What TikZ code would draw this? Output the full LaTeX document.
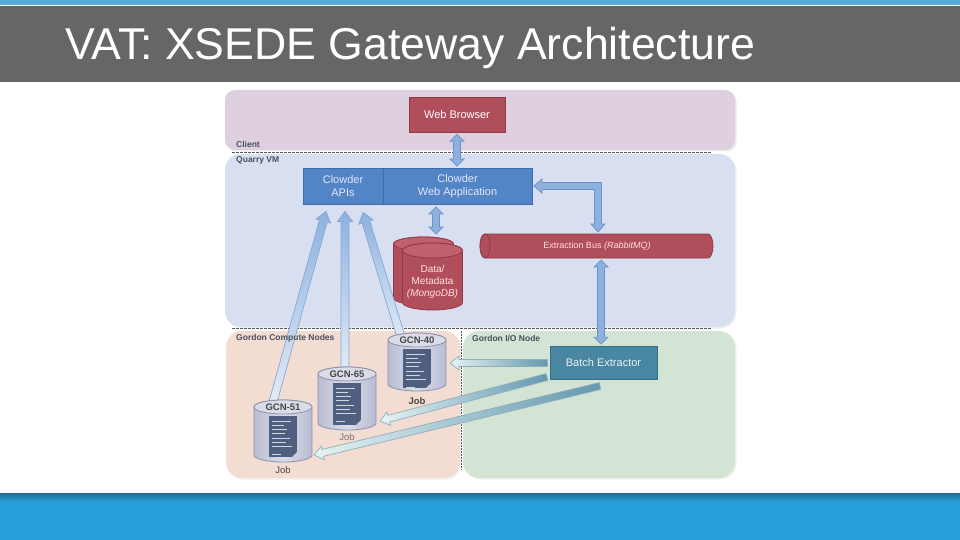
\documentclass[tikz,border=0pt]{standalone}
\usepackage{fontspec}
\setmainfont{Liberation Sans}
\usetikzlibrary{calc}
\definecolor{topblue}{HTML}{57ACD9}
\definecolor{titlegray}{HTML}{666666}
\definecolor{botline}{HTML}{1F6C94}
\definecolor{botblue}{HTML}{279FD9}
\definecolor{clientc}{HTML}{DFD0E0}
\definecolor{quarryc}{HTML}{D7DFF1}
\definecolor{computec}{HTML}{F3DCD1}
\definecolor{ioc}{HTML}{D4E4D4}
\definecolor{redc}{HTML}{B14E5C}
\definecolor{redd}{HTML}{8E3A47}
\definecolor{redtop}{HTML}{BF606C}
\definecolor{bluec}{HTML}{5285C5}
\definecolor{blued}{HTML}{3E6CA8}
\definecolor{tealc}{HTML}{4886A1}
\definecolor{teald}{HTML}{356D86}
\definecolor{arrowc}{HTML}{8DB1DF}
\definecolor{arrowd}{HTML}{6A92C7}
\definecolor{gcnbody}{HTML}{B8BDD3}
\definecolor{gcnlight}{HTML}{DADCE8}
\definecolor{gcnd}{HTML}{8D92AA}
\definecolor{docc}{HTML}{4F5F80}
\definecolor{labc}{HTML}{4A4F5E}
\tikzset{
  redbox/.style={draw=redd, fill=redc, text=white, inner sep=0pt, line width=0.8pt, font=\fontsize{11}{13}\selectfont},
  bluebox/.style={draw=blued, fill=bluec, text=white!90!blue, inner sep=0pt, align=center, line width=0.8pt, font=\fontsize{11}{13}\selectfont},
  tealbox/.style={draw=teald, fill=tealc, text=white!92!teal, inner sep=0pt, line width=0.8pt, font=\fontsize{11}{13}\selectfont},
  panellab/.style={text=labc, anchor=base west, inner sep=0pt, font=\fontsize{8.5}{10}\selectfont\bfseries},
  gcnlab/.style={text=black!72, inner sep=0pt, font=\fontsize{9.5}{11}\selectfont\bfseries},
  joblab/.style={text=black!72, inner sep=0pt, font=\fontsize{9.5}{11}\selectfont},
  sepline/.style={draw=black!65, line width=0.9pt, dash pattern=on 2.5pt off 1.5pt},
  bluearrow/.style={fill=arrowc, draw=arrowd, line width=0.7pt},
  uparrow/.style={top color=arrowc, bottom color=arrowc!25!white, draw=arrowd!80!white, line width=0.7pt},
  tealarrow/.style={left color=white!90!teal, right color=tealc!85!white, draw=teald!55!white, line width=0.7pt},
  redbody/.style={fill=redc, draw=redd, line width=0.8pt},
  redface/.style={fill=redtop, draw=redd, line width=0.8pt},
  gcnbodys/.style={left color=gcnbody, right color=gcnbody, middle color=gcnlight, draw=gcnd, line width=0.8pt},
  gcnface/.style={fill=gcnlight, draw=gcnd, line width=0.8pt},
  docline/.style={draw=white, line width=0.55pt, opacity=0.75},
}
% one-headed fat arrow: options, start, end, half shaft, half head, head length
\newcommand\Farrow[6]{%
\path[#1] let \p1=($(#3)-(#2)$), \n1={atan2(\y1,\x1)}, \n2={veclen(\x1,\y1)} in
 ($(#2)+(\n1+90:#4)$) -- ($(#2)+(\n1:\n2-#6)+(\n1+90:#4)$) -- ($(#2)+(\n1:\n2-#6)+(\n1+90:#5)$) -- (#3)
 -- ($(#2)+(\n1:\n2-#6)+(\n1-90:#5)$) -- ($(#2)+(\n1:\n2-#6)+(\n1-90:#4)$) -- ($(#2)+(\n1-90:#4)$) -- cycle;}
% two-headed fat arrow
\newcommand\DFarrow[6]{%
\path[#1] let \p1=($(#3)-(#2)$), \n1={atan2(\y1,\x1)}, \n2={veclen(\x1,\y1)} in
 (#2) -- ($(#2)+(\n1:#6)+(\n1+90:#5)$) -- ($(#2)+(\n1:#6)+(\n1+90:#4)$) -- ($(#2)+(\n1:\n2-#6)+(\n1+90:#4)$)
 -- ($(#2)+(\n1:\n2-#6)+(\n1+90:#5)$) -- (#3) -- ($(#2)+(\n1:\n2-#6)+(\n1-90:#5)$) -- ($(#2)+(\n1:\n2-#6)+(\n1-90:#4)$)
 -- ($(#2)+(\n1:#6)+(\n1-90:#4)$) -- ($(#2)+(\n1:#6)+(\n1-90:#5)$) -- cycle;}
% vertical cylinder: body opts, face opts, cx, top centre y, bottom centre y, rx, ry
\newcommand\Vcyl[7]{%
 \path[#1] (#3-#6,#4) -- (#3-#6,#5) arc[start angle=180,end angle=360,x radius=#6,y radius=#7]
   -- (#3+#6,#4) arc[start angle=0,end angle=180,x radius=#6,y radius=#7] -- cycle;
 \path[#2] (#3,#4) ellipse[x radius=#6, y radius=#7];}
% job document: cx, top y, bottom y
\newcommand\Jobdoc[3]{%
 \fill[docc] (#1-14,#2) rectangle (#1+14,#3);
 \fill[white!70!docc] (#1+14,#3+5) -- (#1+9,#3) -- (#1+14,#3) -- cycle;
 \foreach \i/\l in {0/19,1/12,2/15,3/13,4/18,5/14,6/20,8/9}
   \draw[docline] (#1-11,#2-5-\i*4.2) -- ++(\l,0);}
\begin{document}
\begin{tikzpicture}[x=1pt,y=1pt]
\useasboundingbox (0,0) rectangle (960,-540);
\fill[white] (0,0) rectangle (960,-540);
% title bar
\fill[topblue] (0,0) rectangle (960,-5);
\fill[titlegray] (0,-6.5) rectangle (960,-82);
\node[anchor=base west, inner sep=0pt, text=white, font=\fontsize{44.6}{48}\selectfont] (title) at (65,-60) {VAT: XSEDE Gateway Architecture};
% bottom band
\shade[top color=botline, bottom color=botblue] (0,-493) rectangle (960,-501);
\fill[botblue] (0,-501) rectangle (960,-540);
% panels
\fill[black!8, rounded corners=10] (226.5,-91.5) rectangle (736.5,-151.5);
\fill[clientc, rounded corners=10] (225,-90) rectangle (735,-150);
\fill[black!6, rounded corners=16] (226.5,-155.5) rectangle (736.5,-328.5);
\fill[quarryc, rounded corners=16] (225,-154) rectangle (735,-327);
\fill[black!6, rounded corners=16] (227.5,-332.5) rectangle (461.5,-479.5);
\fill[computec, rounded corners=16] (226,-331) rectangle (460,-478);
\fill[black!6, rounded corners=16] (464.5,-332.5) rectangle (736.5,-479.5);
\fill[ioc, rounded corners=16] (463,-331) rectangle (735,-478);
\draw[sepline] (232,-152.5) -- (712,-152.5);
\draw[sepline] (232,-328.5) -- (712,-328.5);
\draw[sepline, line width=0.8pt, dash pattern=on 1.5pt off 1.5pt] (461.5,-331) -- (461.5,-470);
% boxes
\node[redbox, minimum width=96pt, minimum height=35pt] (wb) at (457,-114.5) {Web Browser};
\node[bluebox, minimum width=80pt, minimum height=36pt] (api) at (343,-186) {Clowder\\APIs};
\node[bluebox, minimum width=149pt, minimum height=36pt] (cwa) at (457.5,-186) {Clowder\\Web Application};
\node[tealbox, minimum width=107pt, minimum height=33pt] (be) at (603.5,-362.5) {Batch Extractor};
% extraction bus (horizontal cylinder)
\path[redbody] (485,-234) -- (708,-234) arc[start angle=90,end angle=-90,x radius=5,y radius=12]
   -- (485,-258) arc[start angle=270,end angle=90,x radius=5,y radius=12] -- cycle;
\path[redbody] (485,-246) ellipse[x radius=5, y radius=12];
\node[text=white!88!red, inner sep=0pt, font=\fontsize{9}{11}\selectfont] (bus) at (597,-246.5) {Extraction Bus \textit{(RabbitMQ)}};
% data / metadata cylinders
\Vcyl{redbody}{redface}{423.5}{-244}{-298}{30}{7}
\Vcyl{redbody}{redface}{432.5}{-250.5}{-302.5}{30}{7.5}
\node[text=white!88!red, inner sep=0pt, align=center, font=\fontsize{10}{12}\selectfont] (db) at (432.5,-282) {Data/\\Metadata\\\textit{(MongoDB)}};
% connector end points
\coordinate (wbS) at ($(wb.south)+(0,-2)$);
\coordinate (cwaN0) at (wb.south |- cwa.north);
\coordinate (cwaN) at ($(cwaN0)+(0,1.5)$);
\coordinate (cwaS) at ($(cwa.south)+(-21.5,-2.5)$);
\coordinate (dbtop) at (436,-234);
\coordinate (eL) at ($(cwa.east)+(1.5,0)$);
\coordinate (eC) at (598,-186);
\coordinate (eB) at (598,-232);
\coordinate (busS) at (601,-260);
\coordinate (beN) at ($(be.north)+(-2.5,1.5)$);
\coordinate (h51) at ($(api.south)+(-17,-7)$);
\coordinate (h65) at ($(api.south)+(2,-7)$);
\coordinate (h40) at ($(api.south)+(20,-8)$);
\coordinate (t51) at (273,-402);
\coordinate (t65) at (345,-372);
\coordinate (t40) at (402,-340);
\coordinate (bA) at ($(be.west)+(-2,-0.5)$);
\coordinate (bB) at (547,-377);
\coordinate (bC) at (600,-386);
\coordinate (j40) at (450,-363);
\coordinate (j65) at (380,-421);
\coordinate (j51) at (314,-455);
% blue connectors
\DFarrow{bluearrow}{wbS}{cwaN}{3.5}{7}{7}
\DFarrow{bluearrow}{cwaS}{dbtop}{3.5}{7}{7}
\DFarrow{bluearrow}{busS}{beN}{3.5}{7}{7}
\path[bluearrow] (eL) -- ($(eL)+(8,7)$) -- ($(eL)+(8,3.5)$) -- ($(eC)+(3.5,3.5)$) -- ($(eB)+(3.5,8)$)
  -- ($(eB)+(7,8)$) -- (eB) -- ($(eB)+(-7,8)$) -- ($(eB)+(-3.5,8)$) -- ($(eC)+(-3.5,-3.5)$)
  -- ($(eL)+(8,-3.5)$) -- ($(eL)+(8,-7)$) -- cycle;
% compute nodes to APIs
\Farrow{uparrow}{t51}{h51}{4}{7.5}{10}
\Farrow{uparrow}{t65}{h65}{4}{7.5}{10}
\Farrow{uparrow}{t40}{h40}{4}{7.5}{10}
% panel labels
\node[panellab] (lclient) at (236,-148) {Client};
\node[panellab] (lquarry) at (236,-163) {Quarry VM};
\node[panellab] (lcompute) at (236,-340) {Gordon Compute Nodes};
\node[panellab] (lio) at (472,-341) {Gordon I/O Node};
% GCN cylinders
\Vcyl{gcnbodys}{gcnface}{417}{-340}{-384}{29}{7}
\node[gcnlab] (g40) at (417,-340.5) {GCN-40};
\Jobdoc{417}{-349}{-388}
\node[joblab, font=\fontsize{9.5}{11}\selectfont\bfseries] (job40) at (417,-401) {Job};
\Vcyl{gcnbodys}{gcnface}{347}{-374}{-423}{29}{7}
\node[gcnlab] (g65) at (347,-374.5) {GCN-65};
\Jobdoc{347}{-383}{-425}
\node[joblab, text=black!55] (job65) at (347,-437) {Job};
\Vcyl{gcnbodys}{gcnface}{283}{-407}{-455}{29}{7}
\node[gcnlab] (g51) at (283,-407.5) {GCN-51};
\Jobdoc{283}{-416}{-457}
\node[joblab] (job51) at (283,-470) {Job};
% batch extractor to jobs
\Farrow{tealarrow}{bA}{j40}{3.5}{7}{9}
\Farrow{tealarrow}{bB}{j65}{3.5}{7}{9}
\Farrow{tealarrow}{bC}{j51}{3.5}{7}{9}
\end{tikzpicture}
\end{document}
